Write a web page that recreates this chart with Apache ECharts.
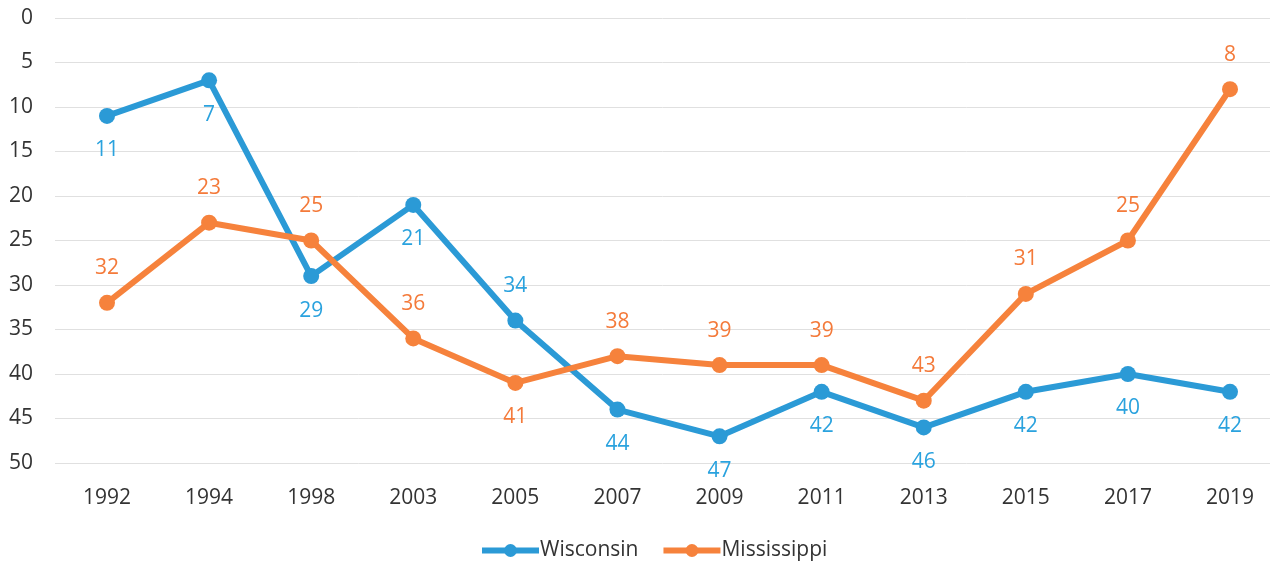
<!DOCTYPE html>
<html>
<head>
<meta charset="utf-8">
<style>
  html, body { margin: 0; padding: 0; background: #fff; }
  #chart { width: 1270px; height: 566px; }
</style>
<script src="https://cdn.jsdelivr.net/npm/echarts@6/dist/echarts.min.js"></script>
</head>
<body>
<div id="chart"></div>
<script>
// Rankings by year (lower is better; axis runs downward)
const years = ['1992', '1994', '1998', '2003', '2005', '2007', '2009', '2011', '2013', '2015', '2017', '2019'];
const wisconsin = [11, 7, 29, 21, 34, 44, 47, 42, 46, 42, 40, 42];
const mississippi = [32, 23, 25, 36, 41, 38, 39, 39, 43, 31, 25, 8];
// Which side of the point each value label sits on
const wisconsinLabelSide = ['bottom', 'bottom', 'bottom', 'bottom', 'top', 'bottom', 'bottom', 'bottom', 'bottom', 'bottom', 'bottom', 'bottom'];
const mississippiLabelSide = ['top', 'top', 'top', 'top', 'bottom', 'top', 'top', 'top', 'top', 'top', 'top', 'top'];

const BLUE = '#2b9ad6';
const ORANGE = '#f6823c';
const FONT = '"Open Sans", "Liberation Sans", sans-serif';
const TEXT = '#333333';

function points(values, sides) {
  return values.map((v, i) => ({ value: v, label: { position: sides[i] } }));
}

function lineSeries(name, values, sides, color, labelColor) {
  return {
    name: name,
    type: 'line',
    xAxisIndex: 1,
    yAxisIndex: 1,
    data: points(values, sides),
    symbol: 'circle',
    symbolSize: 16,
    lineStyle: { width: 6, color: color },
    itemStyle: { color: color },
    label: {
      show: true,
      distance: 16,
      color: labelColor,
      fontSize: 21,
      fontFamily: FONT
    },
    emphasis: { disabled: true },
    animation: false
  };
}

const chart = echarts.init(document.getElementById('chart'), null, { renderer: 'canvas' });
chart.setOption({
  backgroundColor: '#ffffff',
  // grid 0 carries the value scale and gridlines across the full width;
  // grid 1 holds the plotted years, spaced evenly between the first and last point
  grid: [
    { left: 55, top: 18, right: 0, height: 445 },
    { left: 107, top: 18, right: 40, height: 445 }
  ],
  xAxis: [
    {
      gridIndex: 0,
      type: 'value',
      min: 0,
      max: 1,
      show: false
    },
    {
      gridIndex: 1,
      type: 'category',
      data: years,
      boundaryGap: false,
      axisLine: { show: false },
      axisTick: { show: false },
      splitLine: { show: false },
      axisLabel: { color: TEXT, fontSize: 21, fontFamily: FONT, margin: 25 }
    }
  ],
  yAxis: [
    {
      gridIndex: 0,
      type: 'value',
      inverse: true,
      min: 0,
      max: 50,
      interval: 5,
      axisLine: { show: false },
      axisTick: { show: false },
      axisLabel: { color: TEXT, fontSize: 21, fontFamily: FONT, margin: 22, align: 'right' },
      splitLine: { lineStyle: { color: '#e0e0e0', width: 1 } }
    },
    {
      gridIndex: 1,
      type: 'value',
      inverse: true,
      min: 0,
      max: 50,
      interval: 5,
      show: false,
      splitLine: { show: false }
    }
  ],
  legend: {
    bottom: 0,
    left: 474,
    itemWidth: 57,
    itemHeight: 16,
    itemGap: 22,
    lineStyle: { width: 6 },
    textStyle: { color: TEXT, fontSize: 21, fontFamily: FONT, padding: [0, 0, 0, -4] },
    data: ['Wisconsin', 'Mississippi']
  },
  series: [
    lineSeries('Wisconsin', wisconsin, wisconsinLabelSide, BLUE, '#2aa2de'),
    lineSeries('Mississippi', mississippi, mississippiLabelSide, ORANGE, '#f47a3a')
  ]
});
</script>
</body>
</html>
